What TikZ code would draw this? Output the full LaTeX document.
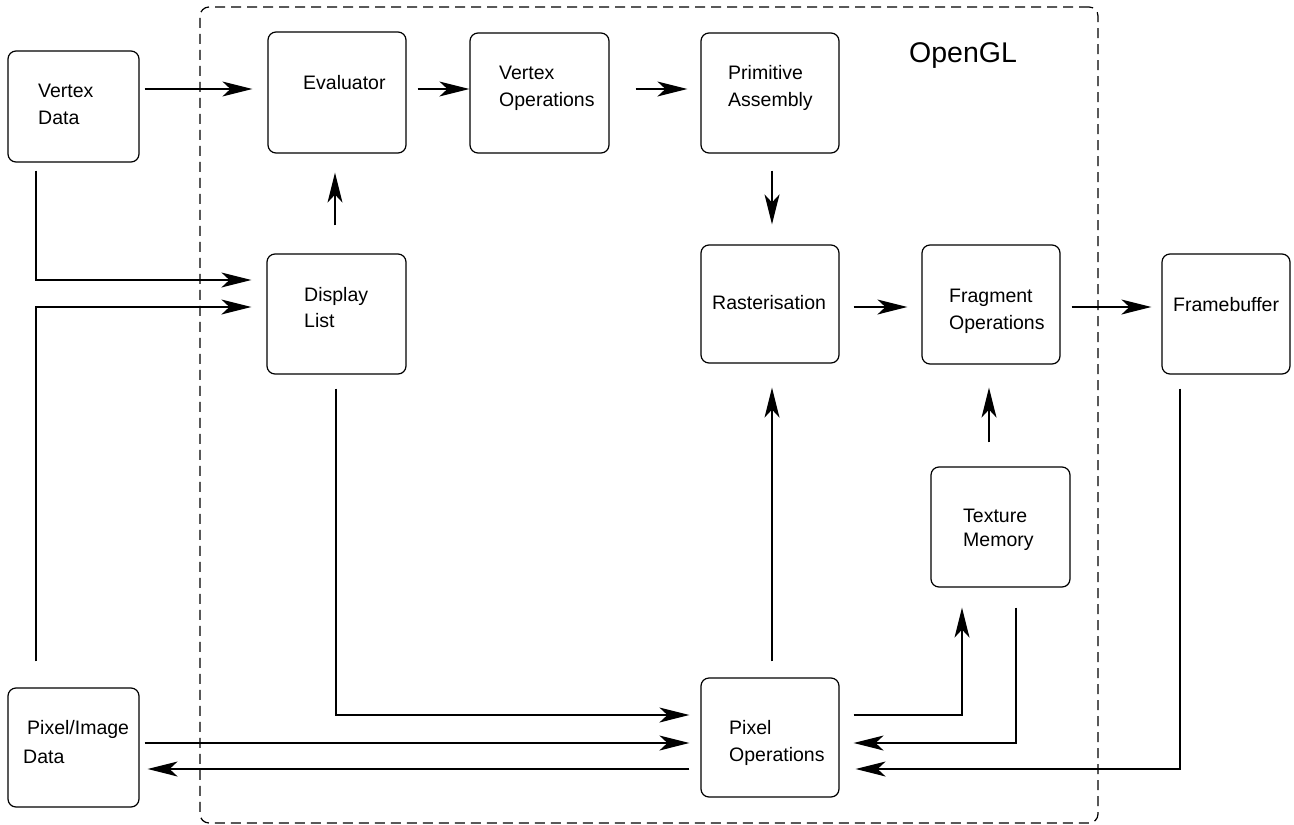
\documentclass[tikz,border=0pt]{standalone}
\usepackage{fontspec}
\setmainfont{Liberation Sans}
\usetikzlibrary{arrows.meta}

% two stacked lines whose baseline is that of the first line
\newcommand\stackedlines[3][27pt]{\vtop{\baselineskip=#1\hbox{#2}\hbox{#3}}}

\begin{document}
\begin{tikzpicture}[x=1pt,y=-1pt,
  stage/.style={draw,line width=1.2pt,rounded corners=8pt,inner sep=0pt},
  lbl/.style={anchor=base west,inner sep=0pt,font=\fontsize{19.5}{27}\selectfont},
  flow/.style={line width=1.2pt,-{Stealth[length=30pt,width=15pt,inset=8pt]}},
  wire/.style={line width=1.2pt}]

\useasboundingbox (0,0) rectangle (1294,825);

% OpenGL boundary
\node[draw,dashed,dash pattern=on 10pt off 6pt,line width=1.2pt,rounded corners=9pt,
      minimum width=898pt,minimum height=816pt,inner sep=0pt] (gl) at (649,415) {};
\node[anchor=base west,inner sep=0pt,font=\fontsize{28.5}{34}\selectfont] (gl-t) at (909,62) {OpenGL};

% stages: name, centre, size
\node[stage,minimum width=131pt,minimum height=111pt] (vd) at (73.5,106.5) {};
\node[stage,minimum width=138pt,minimum height=121pt] (ev) at (337,92.5) {};
\node[stage,minimum width=139pt,minimum height=120pt] (vo) at (539.5,93) {};
\node[stage,minimum width=138pt,minimum height=120pt] (pa) at (770,93) {};
\node[stage,minimum width=139pt,minimum height=120pt] (dl) at (336.5,314) {};
\node[stage,minimum width=138pt,minimum height=118pt] (ra) at (770,304) {};
\node[stage,minimum width=138pt,minimum height=119pt] (fo) at (991,304.5) {};
\node[stage,minimum width=128pt,minimum height=120pt] (fb) at (1226,314) {};
\node[stage,minimum width=139pt,minimum height=120pt] (tm) at (1000.5,527) {};
\node[stage,minimum width=138pt,minimum height=119pt] (po) at (770,737.5) {};
\node[stage,minimum width=131pt,minimum height=119pt] (pi) at (73.5,747.5) {};

% stage captions
\node[lbl] (vd-t) at (38,97)   {\stackedlines{Vertex}{Data}};
\node[lbl] (ev-t) at (303,89)  {Evaluator};
\node[lbl] (vo-t) at (499,79)  {\stackedlines{Vertex}{Operations}};
\node[lbl] (pa-t) at (728,79)  {\stackedlines{Primitive}{Assembly}};
\node[lbl] (dl-t) at (304,301) {\stackedlines[26.5pt]{Display}{List}};
\node[lbl] (ra-t) at (712,309) {Rasterisation};
\node[lbl] (fo-t) at (949,302) {\stackedlines{Fragment}{Operations}};
\node[lbl] (fb-t) at (1173,311) {Framebuffer};
\node[lbl] (tm-t) at (963,522) {\stackedlines[24pt]{Texture}{Memory}};
\node[lbl] (po-t) at (729,734) {\stackedlines{Pixel}{Operations}};
\node[lbl] (pi-t) at (23,734)  {\stackedlines[29pt]{\hspace{4pt}Pixel/Image}{Data}};

% rows and columns used by the connectors
\coordinate (rowA) at (0,89);
\coordinate (rowB) at (0,280);
\coordinate (rowC) at (0,307);
\coordinate (rowD) at (0,715);
\coordinate (rowE) at (0,743);
\coordinate (rowF) at (0,769);
\coordinate (colL) at (36,0);
\coordinate (colD) at (336,0);
\coordinate (colE) at (335,0);
\coordinate (colR) at (772,0);
\coordinate (colT) at (989,0);
\coordinate (colU) at (962,0);
\coordinate (colV) at (1016,0);
\coordinate (colF) at (1180,0);

% geometry pipeline
\draw[flow,shorten <=5pt,shorten >=15pt] (vd.east |- rowA) -- (ev.west |- rowA);
\draw[flow,shorten <=11pt,shorten >=0pt] (ev.east |- rowA) -- (vo.west |- rowA);
\draw[flow,shorten <=26pt,shorten >=13pt] (vo.east |- rowA) -- (pa.west |- rowA);
\draw[flow,shorten <=17pt,shorten >=20pt] (colR |- pa.south) -- (colR |- ra.north);
\draw[flow,shorten <=28pt,shorten >=19pt] (colE |- dl.north) -- (colE |- ev.south);

% inputs into the display list
\draw[flow,shorten <=8pt,shorten >=15pt] (colL |- vd.south) |- (dl.west |- rowB);
\draw[flow,shorten <=26pt,shorten >=15pt] (colL |- pi.north) |- (dl.west |- rowC);

% display list and pixel data into pixel operations
\draw[flow,shorten <=14pt,shorten >=11pt] (colD |- dl.south) |- (po.west |- rowD);
\draw[flow,shorten <=5pt,shorten >=11pt] (pi.east |- rowE) -- (po.west |- rowE);
\draw[flow,shorten <=11pt,shorten >=8pt] (po.west |- rowF) -- (pi.east |- rowF);

% fragment side
\draw[flow,shorten <=16pt,shorten >=24pt] (colR |- po.north) -- (colR |- ra.south);
\draw[flow,shorten <=14pt,shorten >=14pt] (ra.east |- rowC) -- (fo.west |- rowC);
\draw[flow,shorten <=11pt,shorten >=10pt] (fo.east |- rowC) -- (fb.west |- rowC);
\draw[flow,shorten <=24pt,shorten >=23pt] (colT |- tm.north) -- (colT |- fo.south);

% texture memory and framebuffer loops
\draw[flow,shorten <=14pt,shorten >=20pt] (po.east |- rowD) -| (colU |- tm.south);
\draw[flow,shorten <=20pt,shorten >=14pt] (colV |- tm.south) |- (po.east |- rowE);
\draw[flow,shorten <=14pt,shorten >=16pt] (colF |- fb.south) |- (po.east |- rowF);

\end{tikzpicture}
\end{document}
